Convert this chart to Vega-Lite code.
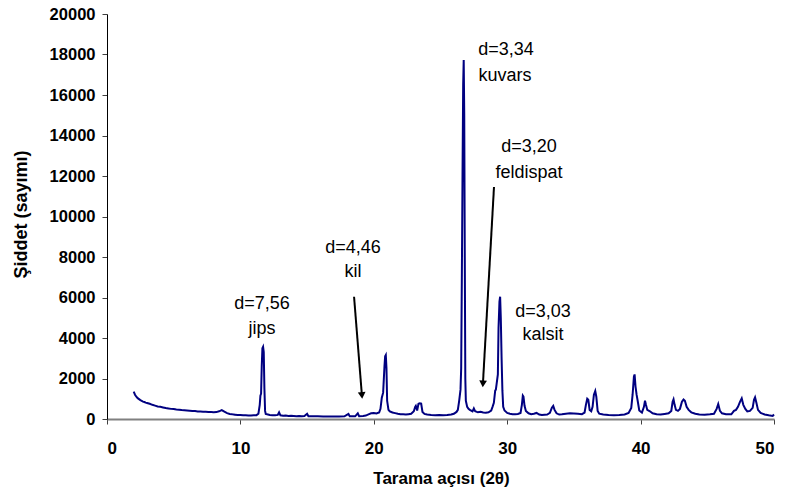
{
  "$schema": "https://vega.github.io/schema/vega-lite/v6.json",
  "autosize": "none",
  "width": 667,
  "height": 405,
  "padding": {"left": 107, "top": 14, "right": 11, "bottom": 77},
  "background": "white",
  "config": {
    "view": {"stroke": null},
    "font": "Liberation Sans"
  },
  "datasets": {
    "xrd": [
      {"a":2.0,"c":1350},{"a":2.05,"c":1280},{"a":2.1,"c":1200},{"a":2.2,"c":1100},{"a":2.3,"c":1030},{"a":2.4,"c":980},{"a":2.5,"c":930},{"a":2.6,"c":900},{"a":2.7,"c":860},{"a":2.8,"c":840},{"a":2.9,"c":810},{"a":3.0,"c":790},{"a":3.2,"c":750},{"a":3.4,"c":700},{"a":3.6,"c":660},{"a":3.8,"c":620},{"a":4.0,"c":600},{"a":4.2,"c":570},{"a":4.4,"c":540},{"a":4.6,"c":520},{"a":4.8,"c":500},{"a":5.0,"c":490},{"a":5.2,"c":470},{"a":5.4,"c":460},{"a":5.6,"c":440},{"a":5.8,"c":430},{"a":6.0,"c":420},{"a":6.2,"c":410},{"a":6.4,"c":400},{"a":6.6,"c":390},{"a":6.8,"c":375},{"a":7.0,"c":370},{"a":7.2,"c":360},{"a":7.4,"c":355},{"a":7.6,"c":345},{"a":7.8,"c":340},{"a":8.0,"c":335},{"a":8.2,"c":340},{"a":8.4,"c":380},{"a":8.6,"c":440},{"a":8.8,"c":360},{"a":9.0,"c":290},{"a":9.2,"c":250},{"a":9.4,"c":230},{"a":9.6,"c":215},{"a":9.8,"c":200},{"a":10.0,"c":195},{"a":10.2,"c":185},{"a":10.4,"c":180},{"a":10.6,"c":175},{"a":10.8,"c":170},{"a":11.0,"c":180},{"a":11.2,"c":190},{"a":11.35,"c":260},{"a":11.45,"c":700},{"a":11.5,"c":1150},{"a":11.55,"c":1250},{"a":11.6,"c":2600},{"a":11.65,"c":3500},{"a":11.7,"c":3570},{"a":11.75,"c":3300},{"a":11.8,"c":1500},{"a":11.85,"c":400},{"a":11.9,"c":250},{"a":12.0,"c":230},{"a":12.2,"c":200},{"a":12.4,"c":190},{"a":12.6,"c":180},{"a":12.8,"c":200},{"a":12.9,"c":330},{"a":13.0,"c":180},{"a":13.2,"c":160},{"a":13.4,"c":170},{"a":13.6,"c":150},{"a":13.8,"c":160},{"a":14.0,"c":150},{"a":14.2,"c":140},{"a":14.4,"c":150},{"a":14.6,"c":140},{"a":14.8,"c":150},{"a":15.0,"c":260},{"a":15.1,"c":140},{"a":15.4,"c":130},{"a":15.8,"c":130},{"a":16.2,"c":125},{"a":16.6,"c":125},{"a":17.0,"c":120},{"a":17.4,"c":125},{"a":17.8,"c":130},{"a":18.1,"c":250},{"a":18.2,"c":130},{"a":18.6,"c":130},{"a":18.8,"c":280},{"a":18.9,"c":140},{"a":19.2,"c":150},{"a":19.4,"c":170},{"a":19.6,"c":230},{"a":19.8,"c":280},{"a":20.0,"c":300},{"a":20.2,"c":270},{"a":20.4,"c":320},{"a":20.5,"c":500},{"a":20.6,"c":1050},{"a":20.7,"c":1300},{"a":20.8,"c":2600},{"a":20.85,"c":3100},{"a":20.9,"c":3160},{"a":20.95,"c":2500},{"a":21.0,"c":900},{"a":21.1,"c":450},{"a":21.2,"c":380},{"a":21.4,"c":320},{"a":21.6,"c":290},{"a":21.8,"c":260},{"a":22.0,"c":240},{"a":22.2,"c":230},{"a":22.4,"c":220},{"a":22.6,"c":240},{"a":22.8,"c":260},{"a":23.0,"c":380},{"a":23.1,"c":600},{"a":23.15,"c":650},{"a":23.25,"c":420},{"a":23.35,"c":750},{"a":23.45,"c":780},{"a":23.55,"c":760},{"a":23.65,"c":350},{"a":23.8,"c":250},{"a":24.0,"c":220},{"a":24.3,"c":200},{"a":24.6,"c":190},{"a":24.9,"c":200},{"a":25.2,"c":190},{"a":25.5,"c":200},{"a":25.8,"c":220},{"a":26.0,"c":260},{"a":26.2,"c":350},{"a":26.3,"c":450},{"a":26.4,"c":900},{"a":26.5,"c":1450},{"a":26.55,"c":2500},{"a":26.6,"c":7000},{"a":26.65,"c":12000},{"a":26.7,"c":16500},{"a":26.74,"c":17730},{"a":26.78,"c":15000},{"a":26.82,"c":8000},{"a":26.86,"c":2000},{"a":26.9,"c":900},{"a":27.0,"c":600},{"a":27.1,"c":500},{"a":27.2,"c":450},{"a":27.4,"c":380},{"a":27.5,"c":520},{"a":27.6,"c":380},{"a":27.8,"c":330},{"a":28.0,"c":360},{"a":28.2,"c":320},{"a":28.4,"c":310},{"a":28.6,"c":330},{"a":28.8,"c":420},{"a":28.9,"c":600},{"a":29.0,"c":800},{"a":29.1,"c":1400},{"a":29.15,"c":1450},{"a":29.2,"c":1700},{"a":29.3,"c":2200},{"a":29.35,"c":4500},{"a":29.42,"c":5800},{"a":29.47,"c":6040},{"a":29.52,"c":5000},{"a":29.58,"c":3000},{"a":29.64,"c":1400},{"a":29.7,"c":600},{"a":29.8,"c":420},{"a":30.0,"c":300},{"a":30.2,"c":260},{"a":30.4,"c":240},{"a":30.6,"c":230},{"a":30.8,"c":250},{"a":31.0,"c":300},{"a":31.1,"c":700},{"a":31.17,"c":1150},{"a":31.22,"c":1100},{"a":31.3,"c":650},{"a":31.4,"c":400},{"a":31.6,"c":280},{"a":31.8,"c":240},{"a":32.0,"c":260},{"a":32.2,"c":300},{"a":32.4,"c":220},{"a":32.6,"c":200},{"a":32.8,"c":210},{"a":33.0,"c":220},{"a":33.2,"c":300},{"a":33.35,"c":560},{"a":33.45,"c":650},{"a":33.55,"c":450},{"a":33.7,"c":280},{"a":33.9,"c":220},{"a":34.1,"c":230},{"a":34.4,"c":260},{"a":34.7,"c":280},{"a":35.0,"c":270},{"a":35.3,"c":260},{"a":35.6,"c":240},{"a":35.8,"c":320},{"a":35.9,"c":700},{"a":36.0,"c":1000},{"a":36.08,"c":950},{"a":36.18,"c":450},{"a":36.3,"c":380},{"a":36.4,"c":600},{"a":36.5,"c":1200},{"a":36.6,"c":1380},{"a":36.68,"c":1100},{"a":36.78,"c":400},{"a":36.9,"c":260},{"a":37.2,"c":220},{"a":37.6,"c":200},{"a":38.0,"c":190},{"a":38.4,"c":200},{"a":38.8,"c":220},{"a":39.1,"c":300},{"a":39.3,"c":550},{"a":39.4,"c":1200},{"a":39.5,"c":2100},{"a":39.55,"c":2200},{"a":39.62,"c":1600},{"a":39.7,"c":1200},{"a":39.78,"c":900},{"a":39.9,"c":420},{"a":40.1,"c":320},{"a":40.25,"c":600},{"a":40.33,"c":900},{"a":40.4,"c":700},{"a":40.5,"c":450},{"a":40.7,"c":380},{"a":40.9,"c":280},{"a":41.2,"c":230},{"a":41.5,"c":220},{"a":41.8,"c":250},{"a":42.1,"c":280},{"a":42.3,"c":400},{"a":42.4,"c":850},{"a":42.47,"c":970},{"a":42.55,"c":700},{"a":42.65,"c":450},{"a":42.8,"c":400},{"a":42.95,"c":500},{"a":43.1,"c":850},{"a":43.22,"c":960},{"a":43.32,"c":900},{"a":43.45,"c":600},{"a":43.6,"c":450},{"a":43.8,"c":330},{"a":44.1,"c":260},{"a":44.4,"c":220},{"a":44.8,"c":210},{"a":45.2,"c":230},{"a":45.5,"c":260},{"a":45.7,"c":500},{"a":45.82,"c":740},{"a":45.95,"c":400},{"a":46.1,"c":280},{"a":46.4,"c":240},{"a":46.8,"c":230},{"a":47.0,"c":400},{"a":47.15,"c":450},{"a":47.3,"c":600},{"a":47.45,"c":850},{"a":47.58,"c":1020},{"a":47.7,"c":700},{"a":47.85,"c":500},{"a":48.0,"c":380},{"a":48.2,"c":400},{"a":48.4,"c":550},{"a":48.5,"c":950},{"a":48.58,"c":1070},{"a":48.68,"c":800},{"a":48.8,"c":450},{"a":49.0,"c":300},{"a":49.3,"c":220},{"a":49.6,"c":180},{"a":49.9,"c":150},{"a":50.0,"c":220}
    ],
    "labels": [
      {"a":11.62,"c":5679,"t":"d=7,56"},
      {"a":11.62,"c":4444,"t":"jips"},
      {"a":18.44,"c":8469,"t":"d=4,46"},
      {"a":18.44,"c":7259,"t":"kil"},
      {"a":29.91,"c":18221,"t":"d=3,34"},
      {"a":29.84,"c":16937,"t":"kuvars"},
      {"a":31.63,"c":13431,"t":"d=3,20"},
      {"a":31.63,"c":12147,"t":"feldispat"},
      {"a":32.68,"c":5284,"t":"d=3,03"},
      {"a":32.68,"c":4148,"t":"kalsit"}
    ],
    "arrows": [
      {"id":"kil","a":18.52,"c":6039,"a2":19.11,"c2":1160},
      {"id":"feldispat","a":29.01,"c":11456,"a2":28.18,"c2":1738}
    ]
  },
  "layer": [
    {
      "data": {"name": "xrd"},
      "mark": {"type": "line", "color": "#000080", "strokeWidth": 2, "interpolate": "linear"},
      "encoding": {
        "x": {
          "field": "a", "type": "quantitative",
          "scale": {"domain": [0, 50], "nice": false, "zero": false},
          "axis": {
            "values": [0, 10, 20, 30, 40, 50],
            "title": "Tarama açısı (2θ)",
            "grid": false,
            "domainColor": "#808080", "domainWidth": 2,
            "tickColor": "#404040", "tickSize": 5, "tickWidth": 1,
            "labelFont": "Liberation Sans", "labelFontWeight": "bold", "labelFontSize": 17, "labelColor": "black",
            "labelPadding": 16,
            "titleFont": "Liberation Sans", "titleFontWeight": "bold", "titleFontSize": 17, "titleColor": "black",
            "titleX": 334, "titleY": 59, "titleBaseline": "middle", "titleAlign": "center"
          }
        },
        "y": {
          "field": "c", "type": "quantitative",
          "scale": {"domain": [0, 20000], "nice": false},
          "axis": {
            "values": [0, 2000, 4000, 6000, 8000, 10000, 12000, 14000, 16000, 18000, 20000],
            "title": "Şiddet (sayımı)",
            "grid": false,
            "format": "d",
            "domainColor": "black", "domainWidth": 1,
            "tickColor": "#404040", "tickSize": 5, "tickWidth": 1,
            "labelFont": "Liberation Sans", "labelFontWeight": "bold", "labelFontSize": 16.5, "labelColor": "black",
            "labelPadding": 7,
            "titleFont": "Liberation Sans", "titleFontWeight": "bold", "titleFontSize": 18, "titleColor": "black",
            "titleX": -86, "titleY": 200, "titleBaseline": "middle", "titleAlign": "center", "titleAngle": -90
          }
        }
      }
    },
    {
      "data": {"name": "arrows"},
      "mark": {"type": "rule", "color": "black", "strokeWidth": 2},
      "encoding": {
        "x": {"field": "a", "type": "quantitative"},
        "y": {"field": "c", "type": "quantitative"},
        "x2": {"field": "a2"},
        "y2": {"field": "c2"}
      }
    },
    {
      "data": {"name": "arrows"},
      "transform": [{"filter": "datum.id === 'kil'"}],
      "mark": {"type": "point", "shape": "triangle-down", "filled": true, "color": "black", "size": 60, "angle": -4.6, "opacity": 1},
      "encoding": {
        "x": {"field": "a2", "type": "quantitative"},
        "y": {"field": "c2", "type": "quantitative"}
      }
    },
    {
      "data": {"name": "arrows"},
      "transform": [{"filter": "datum.id === 'feldispat'"}],
      "mark": {"type": "point", "shape": "triangle-down", "filled": true, "color": "black", "size": 60, "angle": 3.2, "opacity": 1},
      "encoding": {
        "x": {"field": "a2", "type": "quantitative"},
        "y": {"field": "c2", "type": "quantitative"}
      }
    },
    {
      "data": {"name": "labels"},
      "mark": {"type": "text", "font": "Liberation Sans", "fontSize": 18, "color": "black", "align": "center", "baseline": "middle"},
      "encoding": {
        "x": {"field": "a", "type": "quantitative"},
        "y": {"field": "c", "type": "quantitative"},
        "text": {"field": "t"}
      }
    }
  ]
}
